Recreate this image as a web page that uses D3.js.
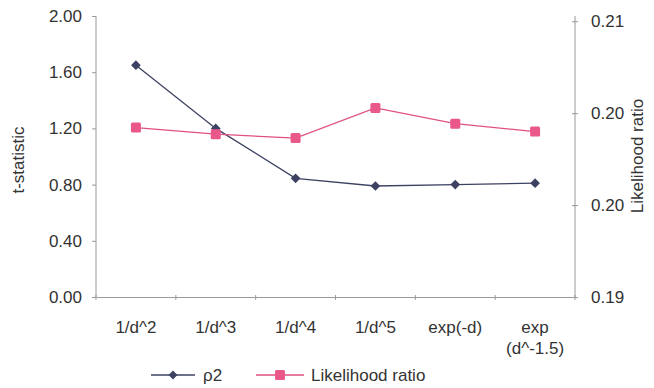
<!DOCTYPE html>
<html>
<head>
<meta charset="utf-8">
<script src="https://cdn.jsdelivr.net/npm/d3@7"></script>
<style>
  html, body { margin: 0; padding: 0; background: #fff; }
  svg { display: block; font-family: "Liberation Sans", Arial, sans-serif; }
</style>
</head>
<body>
<svg id="chart" width="654" height="388"></svg>
<script>
const categories = ["1/d^2", "1/d^3", "1/d^4", "1/d^5", "exp(-d)", "exp\n(d^-1.5)"];
const rho2 = [1.65, 1.20, 0.845, 0.79, 0.80, 0.81];
const likelihoodRatio = [0.2029, 0.2024, 0.2021, 0.2044, 0.2032, 0.2026];
const leftTicks = [0, 0.4, 0.8, 1.2, 1.6, 2.0];
const rightTicks = [0.19, 0.197, 0.204, 0.211];

const svg = d3.select("#chart");
const m = { left: 96, right: 575, top: 16, bottom: 297 };
const fs = 17;

const x = d3.scaleBand().domain(categories).range([m.left, m.right]);
const yL = d3.scaleLinear().domain([0, 2]).range([m.bottom, m.top]);
const yR = d3.scaleLinear().domain([0.19, 0.2114]).range([m.bottom, m.top]);

const axisColor = "#9a9a9a";
const textColor = "#333";

const gL = svg.append("g").attr("transform", `translate(${m.left},0)`)
  .call(d3.axisLeft(yL).tickValues(leftTicks).tickFormat(d3.format(".2f")).tickSize(4).tickPadding(10));
const gR = svg.append("g").attr("transform", `translate(${m.right},0)`)
  .call(d3.axisRight(yR).tickValues(rightTicks).tickFormat(d3.format(".2f")).tickSize(4).tickPadding(12));
const gB = svg.append("g").attr("transform", `translate(0,${m.bottom})`)
  .call(d3.axisBottom(x).tickSize(0).tickFormat(""));

[gL, gR, gB].forEach(g => {
  g.select(".domain").attr("stroke", axisColor).attr("stroke-width", 1);
  g.selectAll(".tick line").attr("stroke", axisColor);
  g.selectAll(".tick text").attr("fill", textColor).attr("font-size", fs)
    .attr("font-family", "Liberation Sans, Arial, sans-serif");
});
gL.select(".domain").attr("d", `M0,${m.top}V${m.bottom}`);
gR.select(".domain").attr("d", `M0,${m.top}V${m.bottom}`);
gR.selectAll(".tick line").attr("x1", -3).attr("x2", 3);

const boundaries = categories.map(c => x(c)).concat([x(categories[categories.length - 1]) + x.bandwidth()]);
svg.append("g").selectAll("line").data(boundaries).join("line")
  .attr("x1", d => d).attr("x2", d => d)
  .attr("y1", m.bottom - 2).attr("y2", m.bottom + 3)
  .attr("stroke", axisColor);

const catG = svg.append("g");
categories.forEach(c => {
  const lines = c.split("\n");
  const t = catG.append("text")
    .attr("x", x(c) + x.bandwidth() / 2)
    .attr("y", 333)
    .attr("text-anchor", "middle")
    .attr("font-size", fs)
    .attr("fill", textColor);
  lines.forEach((ln, i) => {
    t.append("tspan").attr("x", x(c) + x.bandwidth() / 2).attr("dy", i === 0 ? 0 : 21).text(ln);
  });
});

svg.append("text")
  .attr("transform", `translate(24,160) rotate(-90)`)
  .attr("text-anchor", "middle").attr("font-size", fs).attr("fill", textColor)
  .text("t-statistic");
svg.append("text")
  .attr("transform", `translate(643,156) rotate(-90)`)
  .attr("text-anchor", "middle").attr("font-size", fs).attr("fill", textColor)
  .text("Likelihood ratio");

const cx = c => x(c) + x.bandwidth() / 2;
const navy = "#3d4262";
const pink = "#e0517f";

svg.append("path")
  .datum(rho2)
  .attr("fill", "none").attr("stroke", navy).attr("stroke-width", 1.3)
  .attr("d", d3.line().x((d, i) => cx(categories[i])).y(d => yL(d)));
svg.append("g").selectAll("path").data(rho2).join("path")
  .attr("d", d3.symbol(d3.symbolDiamond2, 60))
  .attr("transform", (d, i) => `translate(${cx(categories[i])},${yL(d)})`)
  .attr("fill", navy);

svg.append("path")
  .datum(likelihoodRatio)
  .attr("fill", "none").attr("stroke", pink).attr("stroke-width", 1.3)
  .attr("d", d3.line().x((d, i) => cx(categories[i])).y(d => yR(d)));
svg.append("g").selectAll("rect").data(likelihoodRatio).join("rect")
  .attr("x", (d, i) => cx(categories[i]) - 5)
  .attr("y", d => yR(d) - 5)
  .attr("width", 10).attr("height", 10).attr("rx", 1.5)
  .attr("fill", "#e9578b");

const legY = 375;
const leg = svg.append("g");
leg.append("line").attr("x1", 151).attr("x2", 195).attr("y1", legY).attr("y2", legY)
  .attr("stroke", navy).attr("stroke-width", 1.3);
leg.append("path").attr("d", d3.symbol(d3.symbolDiamond2, 50))
  .attr("transform", `translate(173,${legY})`).attr("fill", navy);
leg.append("text").attr("x", 203).attr("y", legY + 6).attr("font-size", fs).attr("fill", textColor).text("ρ2");
leg.append("line").attr("x1", 256).attr("x2", 304).attr("y1", legY).attr("y2", legY)
  .attr("stroke", pink).attr("stroke-width", 1.3);
leg.append("rect").attr("x", 275).attr("y", legY - 5).attr("width", 10).attr("height", 10).attr("rx", 1.5)
  .attr("fill", "#e9578b");
leg.append("text").attr("x", 311).attr("y", legY + 6).attr("font-size", fs).attr("fill", textColor).text("Likelihood ratio");
</script>
</body>
</html>
